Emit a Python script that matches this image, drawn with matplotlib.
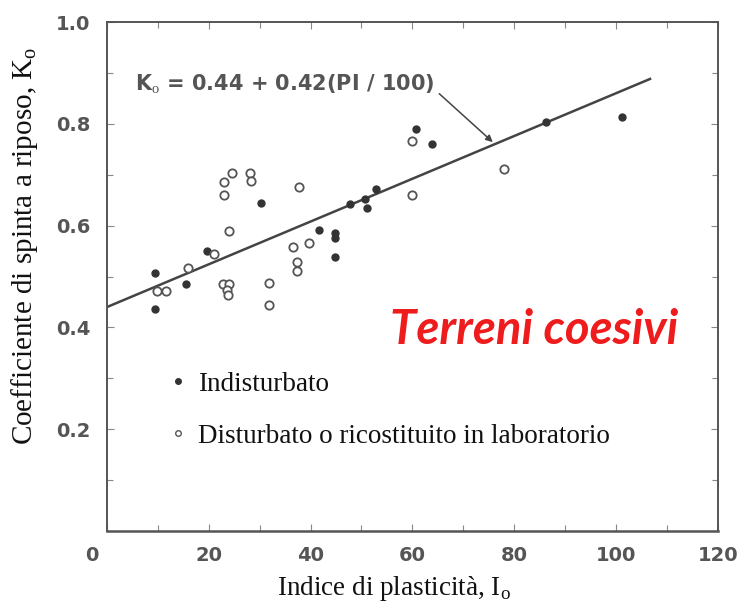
import numpy as np
import matplotlib
matplotlib.use("Agg")
import matplotlib.pyplot as plt
import matplotlib.transforms as mtransforms
from matplotlib.lines import Line2D

plt.rcParams["mathtext.fontset"] = "custom"
plt.rcParams["mathtext.rm"] = "Liberation Serif"

# campioni indisturbati (pieni)
pi_ind = [9.5, 9.5, 15.5, 19.6, 30.3, 41.7, 44.8, 44.8, 44.8, 47.7, 50.7,
          51.1, 52.8, 60.8, 63.9, 86.2, 101.1]
k0_ind = [0.507, 0.436, 0.485, 0.551, 0.644, 0.591, 0.585, 0.576, 0.538, 0.642,
          0.652, 0.634, 0.671, 0.789, 0.760, 0.804, 0.813]

# campioni disturbati / ricostituiti (vuoti)
pi_dis = [24.6, 28.1, 28.3, 23.0, 23.0, 37.7, 24.0, 36.5, 39.7, 37.3, 37.3,
          21.0, 15.9, 9.9, 11.6, 22.7, 24.0, 23.5, 23.7, 31.8, 31.8, 59.9,
          59.9, 78.1]
k0_dis = [0.704, 0.703, 0.687, 0.686, 0.660, 0.676, 0.590, 0.557, 0.566, 0.528,
          0.511, 0.545, 0.517, 0.472, 0.472, 0.485, 0.485, 0.473, 0.464, 0.488,
          0.444, 0.766, 0.661, 0.711]

# retta K0 = 0.44 + 0.42 (PI/100)
a, b = 0.44, 0.42
pi_line = np.array([0, 106.7])
k0_line = a + b * pi_line / 100

fig = plt.figure(figsize=(7.43, 6.03), dpi=100)
ax = fig.add_axes([0.144, 0.1194, 0.822, 0.8441])

gray = "#444444"
ax.plot(pi_line, k0_line, color=gray, lw=1.8, zorder=2)
ax.plot(pi_ind, k0_ind, "o", ms=5, color="#333333", mec="#333333", zorder=3)
ax.plot(pi_dis, k0_dis, "o", ms=6, mfc="white", mec="#555555", mew=1.3, zorder=3)

ax.set_xlim(0, 120)
ax.set_ylim(0, 1.0)
ax.set_xticks(np.arange(0, 121, 20))
ax.set_xticks(np.arange(0, 121, 10), minor=True)
ax.set_yticks([0.2, 0.4, 0.6, 0.8, 1.0])
ax.set_yticks(np.arange(0, 1.01, 0.1), minor=True)
ax.set_yticklabels(["0.2", "0.4", "0.6", "0.8", "1.0"])
ax.tick_params(which="both", direction="in", top=True, right=True,
               color="#888888", width=0.8)
ax.tick_params(which="major", length=5)
ax.tick_params(which="minor", length=4)
ax.tick_params(axis="x", pad=11, labelsize=14, labelcolor="#555555")
ax.tick_params(axis="y", pad=12, labelsize=14, labelcolor="#555555")
for lab in ax.get_xticklabels() + ax.get_yticklabels():
    lab.set_fontweight("bold")
# lo "0" sull'asse x e' spostato a sinistra nell'originale
x0 = ax.get_xticklabels()[0]
x0.set_transform(x0.get_transform() +
                 mtransforms.ScaledTranslation(-0.15, 0, fig.dpi_scale_trans))

for s in ax.spines.values():
    s.set_color("#555555")
    s.set_linewidth(1.4)
ax.spines["bottom"].set_linewidth(1.8)

ax.set_xlabel(r"Indice di plasticità, I$_{\rm o}$", family="Liberation Serif",
              fontsize=19.5, color="#111111")
ax.set_ylabel(r"Coefficiente di spinta a riposo, K$_{\rm o}$",
              family="Liberation Serif", fontsize=21, color="#111111")
ax.xaxis.set_label_coords(0.47, -0.085)
ax.yaxis.set_label_coords(-0.11, 0.56)

ax.annotate(r"K$_{\rm o}$ = 0.44 + 0.42(PI / 100)", xy=(75.8, 0.764),
            xytext=(5.5, 0.877), textcoords="data", va="center", ha="left",
            fontsize=15, fontweight="bold", color="#555555",
            arrowprops=dict(arrowstyle="-|>", color=gray, lw=1.1,
                            shrinkA=2, shrinkB=0, mutation_scale=10,
                            relpos=(1.0, 0.3)))

ax.text(0.70, 0.395, "Terreni coesivi", transform=ax.transAxes,
        fontsize=34, fontweight="bold", fontstyle="italic", color="#ee1c1c",
        family=["Lato", "DejaVu Sans"], ha="center", va="center")

handles = [
    Line2D([], [], ls="none", marker="o", ms=4, color="#333333"),
    Line2D([], [], ls="none", marker="o", ms=4, mfc="white", mec="#555555",
           mew=1.0),
]
ax.legend(handles, ["Indisturbato", "Disturbato o ricostituito in laboratorio"],
          loc="upper left", bbox_to_anchor=(0.099, 0.313), frameon=False,
          borderaxespad=0, borderpad=0,
          prop={"family": "Liberation Serif", "size": 19.5}, handlelength=0.8,
          handletextpad=0.32, labelspacing=1.0, labelcolor="#111111")

fig.savefig("out.png", dpi=100)
